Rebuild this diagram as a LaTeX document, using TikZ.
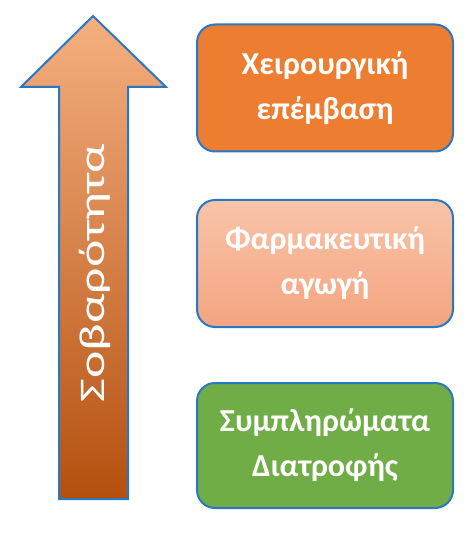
\documentclass[tikz,border=0pt]{standalone}
\usepackage{fontspec}
\setmainfont{Carlito}
\begin{document}
\begin{tikzpicture}[x=1pt,y=-1pt,
  stagebox/.style={draw=bordblue, line width=2pt, rounded corners=18pt,
    minimum width=256pt, minimum height=127pt, text=white,
    font=\bfseries\fontsize{32}{45}\selectfont, align=center},
  ]
\definecolor{bordblue}{HTML}{2A78C4}
\definecolor{orng}{HTML}{ED7D31}
\definecolor{grn}{HTML}{70AD47}
\useasboundingbox (0,0) rectangle (474,534);
\fill[white] (0,0) rectangle (474,534);
% arrow
\shade[top color={rgb,255:red,245;green,176;blue,128}, middle color={rgb,255:red,237;green,125;blue,49}, bottom color={rgb,255:red,180;green,80;blue,15}]
  (93,16) -- (166,87) -- (128,87) -- (128,499) -- (59,499) -- (59,87) -- (21,87) -- cycle;
\draw[bordblue, line width=2pt, line join=miter]
  (93,16) -- (166,87) -- (128,87) -- (128,499) -- (59,499) -- (59,87) -- (21,87) -- cycle;
\node[rotate=90, text=white, font=\fontsize{36}{40}\selectfont] (sev) at (95,273) {\scalebox{1.44}[1]{Σοβαρότητα}};
% boxes
\node[stagebox, fill=orng] (surg) at (325,88) {Χειρουργική\\επέμβαση};
\node[stagebox, top color={rgb,255:red,248;green,196;blue,168}, bottom color={rgb,255:red,244;green,164;blue,128}, minimum height=127pt] (pharm) at (325,263.5) {Φαρμακευτική\\αγωγή};
\node[stagebox, fill=grn, minimum height=125pt] (diet) at (325,445.5) {Συμπληρώματα\\Διατροφής};
\end{tikzpicture}
\end{document}
